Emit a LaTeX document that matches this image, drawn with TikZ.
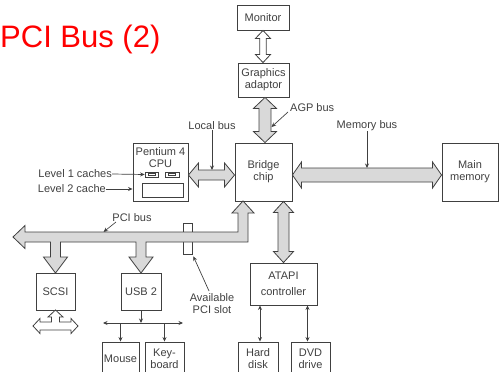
\documentclass[tikz,border=0pt]{standalone}
\usepackage{fontspec}
\setmainfont{Liberation Sans}
\usetikzlibrary{arrows.meta,calc}
\definecolor{ink}{HTML}{404040}
\definecolor{busfill}{HTML}{D9D9D9}
\definecolor{titlered}{HTML}{FF0000}
\newcommand\fatV[6]{% style, top coord, bottom coord, half shaft, half head, head length
  \path[#1] let \p1=(#2), \p2=(#3) in
   (\x1,\y1) -- ({\x1+#5pt},{\y1-#6pt}) -- ({\x1+#4pt},{\y1-#6pt}) -- ({\x1+#4pt},{\y2+#6pt})
   -- ({\x1+#5pt},{\y2+#6pt}) -- (\x1,\y2) -- ({\x1-#5pt},{\y2+#6pt}) -- ({\x1-#4pt},{\y2+#6pt})
   -- ({\x1-#4pt},{\y1-#6pt}) -- ({\x1-#5pt},{\y1-#6pt}) -- cycle;}
\newcommand\fatH[6]{% style, left coord, right coord, half shaft, half head, head length
  \path[#1] let \p1=(#2), \p2=(#3) in
   (\x1,\y1) -- ({\x1+#6pt},{\y1+#5pt}) -- ({\x1+#6pt},{\y1+#4pt}) -- ({\x2-#6pt},{\y1+#4pt})
   -- ({\x2-#6pt},{\y1+#5pt}) -- (\x2,\y1) -- ({\x2-#6pt},{\y1-#5pt}) -- ({\x2-#6pt},{\y1-#4pt})
   -- ({\x1+#6pt},{\y1-#4pt}) -- ({\x1+#6pt},{\y1-#5pt}) -- cycle;}
\begin{document}
\begin{tikzpicture}[x=1pt,y=-1pt,
  box/.style={draw=ink,line width=0.9pt,fill=white,text=ink,align=center,
    font=\fontsize{11}{12}\selectfont,inner sep=0pt},
  lbl/.style={text=ink,font=\fontsize{11}{12}\selectfont,align=center,inner sep=0pt},
  fat/.style={draw=ink,line width=0.8pt,fill=busfill,line join=miter},
  hollow/.style={draw=ink,line width=0.8pt,fill=white,line join=miter},
  thinarr/.style={draw=ink,line width=0.7pt,-{Stealth[length=4.5pt,width=4pt]}},
  thinboth/.style={draw=ink,line width=0.7pt,{Stealth[length=4.5pt,width=4pt]}-{Stealth[length=4.5pt,width=4pt]}},
  small/.style={draw=ink,line width=0.7pt,fill=white,inner sep=0pt},
]
\useasboundingbox (0,0) rectangle (499,372);

% title
\node[anchor=base west,inner sep=0pt,text=titlered,font=\fontsize{31}{36}\selectfont] (title) at (0,47) {PCI Bus (2)};

% boxes
\node[box,minimum width=52pt,minimum height=25pt] (monitor) at (263,17.5) {Monitor};
\node[box,minimum width=51pt,minimum height=34pt] (graphics) at (263.5,80) {Graphics\\adaptor};
\node[box,minimum width=57pt,minimum height=58pt] (bridge) at (263.5,172) {Bridge\\chip};
\node[box,minimum width=56pt,minimum height=58pt] (mem) at (470,172) {Main\\memory};
\node[box,minimum width=55pt,minimum height=58pt] (cpu) at (160.5,172) {};
\node[lbl] (cputext) at (160.5,157.5) {Pentium 4\\CPU};
\node[small,minimum width=13pt,minimum height=5pt] (l1a) at (151.5,174.5) {};
\node[small,minimum width=14pt,minimum height=5pt] (l1b) at (172,174.5) {};
\draw[ink,line width=0.5pt] ($(l1a.center)+(-3.5,-1.2)$) rectangle ($(l1a.center)+(3.5,1.2)$);
\draw[ink,line width=0.5pt] ($(l1b.center)+(-3.5,-1.2)$) rectangle ($(l1b.center)+(3.5,1.2)$);
\node[small,minimum width=41pt,minimum height=14pt] (l2) at (162.5,190) {};
\node[box,minimum width=39pt,minimum height=37pt] (scsi) at (55.5,291.5) {SCSI};
\node[box,minimum width=40pt,minimum height=37pt] (usb) at (141,291.5) {USB 2};
\node[box,minimum width=67pt,minimum height=42pt] (atapi) at (283.5,284) {ATAPI\\[4pt]controller};
\node[box,minimum width=37pt,minimum height=34pt] (mouse) at (120.5,359) {Mouse};
\node[box,minimum width=39pt,minimum height=34pt] (kbd) at (164.5,359) {Key-\\board};
\node[box,minimum width=40pt,minimum height=34pt] (hd) at (258,359) {Hard\\disk};
\node[box,minimum width=39pt,minimum height=34pt] (dvd) at (310.5,359) {DVD\\drive};

% available slot (behind the bus)
\node[small,minimum width=9pt,minimum height=31pt] (slot) at (187.5,238.5) {};

% fat arrows
\fatV{hollow}{monitor.south}{graphics.north}{3.2}{7.5}{8}
\fatV{fat}{$(graphics.south)+(1.5,0)$}{$(bridge.north)+(1.5,0)$}{6}{11.5}{11}
\fatH{fat}{$(cpu.east)+(0,3)$}{bridge.west}{5}{12}{10}
\fatH{fat}{$(bridge.east)+(0,3)$}{mem.west}{7}{13}{9}
\fatV{fat}{atapi.north |- bridge.south}{atapi.north}{5.5}{10}{11}

% PCI bus with branches to SCSI and USB 2
\path[fat] (13,237) -- (25,225.5) -- (25,232) -- (238,232) -- (238,213) -- (232,213)
  -- (243,201) -- (254,213) -- (248,213) -- (248,242)
  -- (146,242) -- (146,257) -- (153,257) -- (141,273) -- (129,257) -- (136,257) -- (136,242)
  -- (60.5,242) -- (60.5,257) -- (67.5,257) -- (55.5,273) -- (43.5,257) -- (50.5,257) -- (50.5,242)
  -- (25,242) -- (25,248.5) -- cycle;

% SCSI external bus
\path[hollow] (55.5,310) -- (63,317) -- (59.5,317) -- (59.5,322) -- (71,322) -- (71,318.5)
  -- (78,326) -- (71,333.5) -- (71,330) -- (40,330) -- (40,333.5) -- (33,326) -- (40,318.5)
  -- (40,322) -- (51.5,322) -- (51.5,317) -- (48,317) -- cycle;

% labels and leaders
\node[lbl,anchor=east] (l1lbl) at (112,174) {Level 1 caches};
\draw[thinarr] (l1lbl.east) -- (l1a.west);
\node[lbl,anchor=east] (l2lbl) at (106,189) {Level 2 cache};
\draw[thinarr] (l2lbl.east) -- (cpu.west |- l2lbl.east);

\node[lbl] (localbus) at (212,126) {Local bus};
\coordinate (localend) at (212,170);
\draw[thinarr] (localbus.south) -- (localend);

\node[lbl] (membus) at (367,126) {Memory bus};
\coordinate (memend) at (367,168);
\draw[thinarr] (membus.south) -- (memend);

\node[lbl,anchor=west] (agpbus) at (290,108) {AGP bus};
\coordinate (agpstart) at (288,112);
\coordinate (agpend) at (271.5,127);
\draw[thinarr] (agpstart) -- (agpend);

\node[lbl] (pcibus) at (132,218) {PCI bus};
\coordinate (pcistart) at (116,222);
\coordinate (pciend) at (103.5,232);
\draw[thinarr] (pcistart) -- (pciend);

\node[lbl] (slotlbl) at (212,304) {Available\\PCI slot};
\coordinate (slotstart) at (209,291);
\draw[thinarr] (slotstart) -- ($(slot.south east)+(1,2)$);

% USB bus
\coordinate (usbbus) at (141,323);
\coordinate (usbL) at (103,323);
\coordinate (usbR) at (183,323);
\draw[thinarr] (usb.south) -- (usbbus);
\draw[thinboth] (usbL) -- (usbR);
\draw[thinarr] (usbbus -| mouse.north) -- (mouse.north);
\draw[thinarr] (usbbus -| kbd.north) -- (kbd.north);

% ATAPI devices
\draw[thinboth] ($(hd.north)+(2,0)$) -- ($(hd.north |- atapi.south)+(2,0)$);
\draw[thinboth] ($(dvd.north)+(-3,0)$) -- ($(dvd.north |- atapi.south)+(-3,0)$);
\end{tikzpicture}
\end{document}
